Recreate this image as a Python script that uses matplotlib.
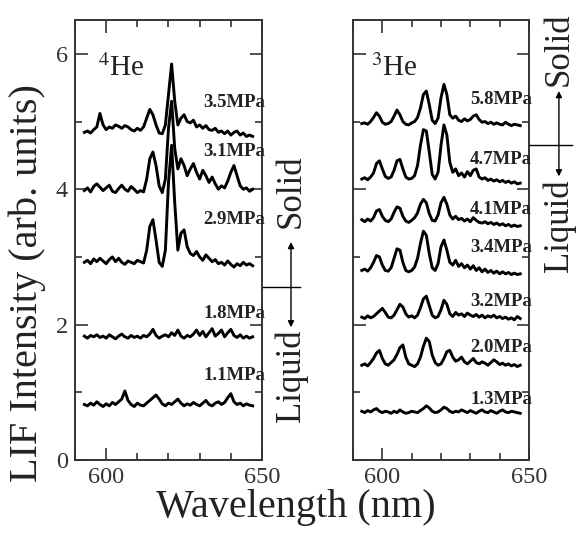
import matplotlib
matplotlib.use('Agg')
import matplotlib.pyplot as plt
from matplotlib.ticker import MultipleLocator

plt.rcParams['font.family'] = ['Liberation Serif', 'DejaVu Serif']
plt.rcParams['mathtext.fontset'] = 'stix'

# wavelength grid (nm), shared by all traces
wl = [593, 594, 595, 596, 597, 598, 599, 600, 601, 602, 603, 604, 605, 606, 607,
      608, 609, 610, 611, 612, 613, 614, 615, 616, 617, 618, 619, 620, 621, 622,
      623, 624, 625, 626, 627, 628, 629, 630, 631, 632, 633, 634, 635, 636, 637,
      638, 639, 640, 641, 642, 643, 644, 645, 646, 647]

# 4He spectra (offset by pressure)
he4_labels = ['3.5MPa', '3.1MPa', '2.9MPa', '1.8MPa', '1.1MPa']
he4_label_y = [5.28, 4.55, 3.55, 2.16, 1.25]
he4_35 = [4.84, 4.86, 4.83, 4.88, 4.92, 5.12, 4.95, 4.88, 4.92, 4.90, 4.95, 4.93, 4.90, 4.94, 4.92,
          4.88, 4.86, 4.90, 4.87, 4.92, 5.05, 5.18, 5.10, 4.95, 4.83, 4.82, 4.95, 5.40, 5.85, 5.30,
          4.95, 5.05, 5.10, 5.00, 4.98, 5.02, 4.92, 4.95, 4.90, 4.94, 4.88, 4.87, 4.90, 4.84, 4.86,
          4.82, 4.86, 4.80, 4.84, 4.86, 4.80, 4.83, 4.78, 4.80, 4.78]
he4_31 = [3.98, 4.02, 3.96, 4.04, 4.08, 4.03, 3.98, 4.02, 4.06, 3.97, 3.95, 4.01, 4.06, 4.00, 3.97,
          4.04, 4.00, 3.95, 3.98, 3.96, 4.15, 4.45, 4.55, 4.35, 4.05, 3.95, 4.15, 4.90, 5.30, 4.60,
          4.30, 4.45, 4.35, 4.20, 4.30, 4.38, 4.25, 4.15, 4.28, 4.20, 4.10, 4.18, 4.08, 4.00, 4.05,
          4.02, 4.12, 4.25, 4.35, 4.20, 4.05, 4.00, 4.02, 3.97, 4.00]
he4_29 = [2.92, 2.95, 2.90, 2.97, 2.93, 2.98, 2.94, 2.90, 2.96, 3.00, 2.93, 2.98, 2.92, 2.89, 2.94,
          2.92, 2.90, 2.95, 2.93, 2.91, 3.10, 3.45, 3.55, 3.25, 2.92, 2.86, 3.10, 4.10, 4.65, 3.80,
          3.10, 3.35, 3.40, 3.15, 3.05, 3.02, 3.08, 3.00, 2.95, 3.03, 2.98, 2.93, 2.96, 2.90, 2.92,
          2.88, 2.94, 2.89, 2.85, 2.90, 2.87, 2.92, 2.88, 2.90, 2.87]
he4_18 = [1.83, 1.80, 1.84, 1.82, 1.85, 1.81, 1.83, 1.80, 1.85, 1.82, 1.79, 1.83, 1.86, 1.82, 1.80,
          1.84, 1.81, 1.83, 1.80, 1.84, 1.82, 1.86, 1.93, 1.84, 1.80, 1.83, 1.85, 1.82, 1.88, 1.84,
          1.92, 1.83, 1.80, 1.84, 1.82, 1.86, 1.92, 1.84, 1.90, 1.82, 1.88, 1.94, 1.83, 1.87, 1.92,
          1.82, 1.88, 1.93, 1.84, 1.81, 1.85, 1.80, 1.83, 1.80, 1.82]
he4_11 = [0.82, 0.80, 0.84, 0.81, 0.86, 0.82, 0.79, 0.83, 0.80, 0.85, 0.82, 0.86, 0.90, 1.02, 0.88,
          0.82, 0.79, 0.84, 0.81, 0.80, 0.84, 0.88, 0.92, 0.96, 0.90, 0.83, 0.80, 0.84, 0.82, 0.86,
          0.90, 0.84, 0.80, 0.83, 0.81, 0.85, 0.82, 0.80, 0.84, 0.88, 0.82, 0.80, 0.84, 0.86, 0.82,
          0.85, 0.92, 0.98, 0.86, 0.82, 0.84, 0.80, 0.83, 0.81, 0.80]

# 3He spectra
he3_labels = ['5.8MPa', '4.7MPa', '4.1MPa', '3.4MPa', '3.2MPa', '2.0MPa', '1.3MPa']
he3_label_y = [5.33, 4.44, 3.70, 3.14, 2.34, 1.66, 0.89]
he3_58 = [4.97, 4.98, 4.96, 5.00, 5.06, 5.13, 5.08, 4.99, 4.96, 4.97, 5.00, 5.08, 5.17, 5.10, 5.00,
          4.96, 4.95, 4.98, 5.00, 5.06, 5.20, 5.40, 5.45, 5.25, 5.02, 4.97, 5.05, 5.35, 5.55, 5.40,
          5.10, 5.05, 5.08, 5.02, 5.00, 5.04, 5.01, 5.03, 5.08, 5.10, 5.03, 4.99, 5.00, 4.97, 4.99,
          4.96, 4.98, 4.96, 4.95, 4.99, 4.96, 4.94, 4.96, 4.95, 4.94]
he3_47 = [4.15, 4.17, 4.14, 4.18, 4.24, 4.38, 4.42, 4.30, 4.19, 4.16, 4.18, 4.28, 4.42, 4.44, 4.30,
          4.18, 4.15, 4.16, 4.20, 4.35, 4.65, 4.88, 4.86, 4.55, 4.22, 4.15, 4.25, 4.65, 4.95, 4.80,
          4.40, 4.25, 4.30, 4.20, 4.24, 4.18, 4.26, 4.20, 4.28, 4.30, 4.18, 4.15, 4.17, 4.13, 4.15,
          4.12, 4.14, 4.11, 4.13, 4.10, 4.12, 4.09, 4.11, 4.08, 4.09]
he3_41 = [3.55, 3.52, 3.56, 3.53, 3.58, 3.68, 3.70, 3.60, 3.54, 3.52, 3.56, 3.66, 3.74, 3.72, 3.60,
          3.53, 3.51, 3.54, 3.58, 3.65, 3.78, 3.85, 3.80, 3.64, 3.54, 3.53, 3.62, 3.80, 3.88, 3.78,
          3.62, 3.56, 3.60, 3.55, 3.57, 3.53, 3.56, 3.52, 3.58, 3.54, 3.51, 3.50, 3.52, 3.49, 3.51,
          3.48, 3.50, 3.47, 3.49, 3.46, 3.48, 3.45, 3.47, 3.45, 3.46]
he3_34 = [2.80, 2.82, 2.79, 2.84, 2.92, 3.02, 3.00, 2.88, 2.80, 2.79, 2.84, 2.98, 3.12, 3.10, 2.92,
          2.80, 2.78, 2.80, 2.85, 2.98, 3.20, 3.38, 3.32, 3.05, 2.84, 2.80, 2.90, 3.15, 3.25, 3.10,
          2.92, 2.88, 2.95, 2.86, 2.90, 2.84, 2.88, 2.82, 2.87, 2.80, 2.84, 2.78, 2.82, 2.77, 2.80,
          2.76, 2.79, 2.75, 2.78, 2.75, 2.77, 2.74, 2.76, 2.74, 2.75]
he3_32 = [2.11, 2.09, 2.13, 2.10, 2.12, 2.16, 2.20, 2.24, 2.18, 2.11, 2.10, 2.14, 2.22, 2.30, 2.26,
          2.16, 2.11, 2.13, 2.10, 2.14, 2.25, 2.38, 2.42, 2.28, 2.14, 2.10, 2.12, 2.22, 2.36, 2.30,
          2.16, 2.12, 2.18, 2.14, 2.16, 2.12, 2.17, 2.14, 2.12, 2.15, 2.11, 2.14, 2.10, 2.13, 2.11,
          2.14, 2.10, 2.12, 2.09, 2.11, 2.08, 2.10, 2.07, 2.12, 2.09]
he3_20 = [1.40, 1.42, 1.39, 1.44, 1.50, 1.58, 1.62, 1.50, 1.42, 1.40, 1.44, 1.48, 1.56, 1.66, 1.70,
          1.52, 1.42, 1.40, 1.38, 1.42, 1.52, 1.68, 1.80, 1.75, 1.55, 1.44, 1.40, 1.42, 1.50, 1.60,
          1.62, 1.52, 1.46, 1.48, 1.52, 1.45, 1.42, 1.46, 1.50, 1.44, 1.42, 1.45, 1.43, 1.40, 1.44,
          1.48, 1.45, 1.41, 1.43, 1.40, 1.42, 1.39, 1.41, 1.38, 1.40]
he3_13 = [0.72, 0.70, 0.73, 0.71, 0.74, 0.76, 0.72, 0.70, 0.72, 0.71, 0.69, 0.72, 0.70, 0.74, 0.71,
          0.69, 0.70, 0.72, 0.71, 0.70, 0.73, 0.76, 0.80, 0.77, 0.72, 0.70, 0.71, 0.74, 0.78, 0.76,
          0.72, 0.70, 0.72, 0.71, 0.74, 0.72, 0.70, 0.73, 0.71, 0.69, 0.72, 0.74, 0.71, 0.70, 0.73,
          0.71, 0.69, 0.72, 0.74, 0.71, 0.70, 0.72, 0.71, 0.70, 0.69]

he4_traces = [he4_35, he4_31, he4_29, he4_18, he4_11]
he3_traces = [he3_58, he3_47, he3_41, he3_34, he3_32, he3_20, he3_13]

W, H = 578, 538
fig = plt.figure(figsize=(W / 100, H / 100), dpi=100)
ax4 = fig.add_axes([75 / W, 78 / H, 187 / W, 440 / H])
ax3 = fig.add_axes([353 / W, 78 / H, 176 / W, 440 / H])

edge = '#333333'
for ax in (ax4, ax3):
    ax.set_xlim(590, 650)
    ax.set_ylim(0, 6.5)
    ax.xaxis.set_major_locator(MultipleLocator(50))
    ax.xaxis.set_minor_locator(MultipleLocator(10))
    ax.yaxis.set_major_locator(MultipleLocator(2))
    ax.yaxis.set_minor_locator(MultipleLocator(1))
    ax.tick_params(which='both', direction='in', top=True, right=True,
                   colors=edge, labelsize=17.5, width=1.2)
    ax.tick_params(which='major', length=9, pad=5)
    ax.tick_params(which='minor', length=5)
    for s in ax.spines.values():
        s.set_linewidth(1.4)
        s.set_color(edge)

ax3.tick_params(labelleft=False)

for y in he4_traces:
    ax4.plot(wl, y, color='black', lw=2.1)
for y in he3_traces:
    ax3.plot(wl, y, color='black', lw=2.1)

for lab, yy in zip(he4_labels, he4_label_y):
    ax4.text(651, yy, lab, ha='right', va='center', fontsize=13.5,
             fontweight='bold', color='#222222')
for lab, yy in zip(he3_labels, he3_label_y):
    ax3.text(651, yy, lab, ha='right', va='center', fontsize=13.5,
             fontweight='bold', color='#222222')

ax4.text(597.3, 5.67, r'$^{4}$He', fontsize=21, color='#222222', va='baseline')
ax3.text(596.0, 5.67, r'$^{3}$He', fontsize=21, color='#222222', va='baseline')

# solid / liquid boundary markers
ax4.plot([650, 662.1], [2.55, 2.55], color='black', lw=1.0, clip_on=False)
ax4.annotate('', xy=(659.3, 3.22), xytext=(659.3, 1.96),
             arrowprops=dict(arrowstyle='<|-|>', color='black', lw=1.0,
                             mutation_scale=9, shrinkA=0, shrinkB=0),
             annotation_clip=False)
ax4.text(659.3, 3.42, 'Solid', rotation=90, ha='center', va='bottom',
         fontsize=25, color='#222222')
ax4.text(659.3, 1.93, 'Liquid', rotation=90, ha='center', va='top',
         fontsize=25, color='#222222')

ax3.plot([650, 664.6], [4.65, 4.65], color='black', lw=1.0, clip_on=False)
ax3.annotate('', xy=(660.2, 5.45), xytext=(660.2, 4.19),
             arrowprops=dict(arrowstyle='<|-|>', color='black', lw=1.0,
                             mutation_scale=9, shrinkA=0, shrinkB=0),
             annotation_clip=False)
ax3.text(660.2, 5.53, 'Solid', rotation=90, ha='center', va='bottom',
         fontsize=25, color='#222222')
ax3.text(660.2, 4.15, 'Liquid', rotation=90, ha='center', va='top',
         fontsize=25, color='#222222')

fig.text(296 / W, 1 - 517 / H, 'Wavelength (nm)', ha='center', va='baseline',
         fontsize=29, color='#222222')
fig.text(27 / W, 1 - 283 / H, 'LIF Intensity (arb. units)', rotation=90,
         ha='center', va='center', fontsize=29, color='#222222')

fig.savefig('out.png', dpi=100)
